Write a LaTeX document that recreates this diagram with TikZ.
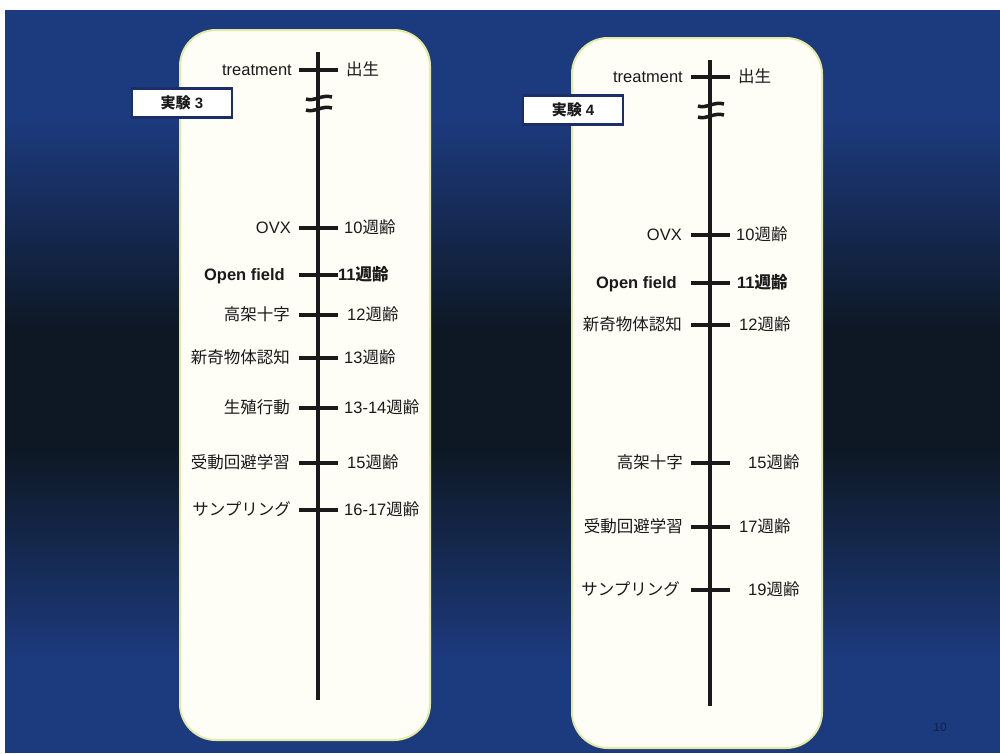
\documentclass[tikz,border=0pt]{standalone}
\usepackage{fontspec}
\setmainfont{Liberation Sans}
\newfontfamily\cjkfont{Noto Sans CJK JP}
\newcommand\jp[1]{{\cjkfont #1}}
\definecolor{bgblue}{HTML}{1C3A7E}
\definecolor{bgdark}{HTML}{0E1824}
\definecolor{panelfill}{HTML}{FEFEF7}
\definecolor{panelborder}{HTML}{E2EAA4}
\definecolor{navy}{HTML}{1A2E68}
\definecolor{ink}{HTML}{1A1A1A}
\tikzset{
  panel/.style={draw=panelborder, line width=2pt, fill=panelfill, rounded corners=36pt},
  axisline/.style={line width=4pt, draw=ink},
  tickline/.style={line width=4.5pt, draw=ink},
  breakline/.style={line width=3.5pt, draw=ink},
  lab/.style={font=\fontsize{16.5}{18}\selectfont, inner sep=0pt, text=ink, yshift=-3pt},
  ll/.style={lab, anchor=mid east},
  rl/.style={lab, anchor=mid west},
  expbox/.style={draw=navy, line width=2.5pt, fill=white, minimum width=100pt, minimum height=29pt, inner sep=0pt, font=\fontsize{15}{17}\selectfont\bfseries, text=ink},
}
\begin{document}
\begin{tikzpicture}[x=1pt,y=-1pt]
\useasboundingbox (0,0) rectangle (1000,753);
\fill[white] (0,0) rectangle (1000,753);
\fill[bgblue] (5,10) rectangle (1000,120);
\shade[top color=bgblue, bottom color=bgdark] (5,119) rectangle (1000,330);
\fill[bgdark] (5,329) rectangle (1000,450);
\shade[top color=bgdark, bottom color=bgblue] (5,449) rectangle (1000,660);
\fill[bgblue] (5,659) rectangle (1000,753);
% panels
\node[panel, minimum width=250pt, minimum height=710pt, inner sep=0pt] (p1) at (305,385) {};
\node[panel, minimum width=250pt, minimum height=710pt, inner sep=0pt] (p2) at (697,393) {};
% experiment labels
\node[expbox] (e3) at (182,103) {\jp{実験} 3};
\node[expbox] (e4) at (573,110) {\jp{実験} 4};
% ---------- timeline 1 ----------
\coordinate (a1top) at (318,52);
\coordinate (a1bot) at (318,700);
\draw[axisline] (a1top) -- (a1bot);
\foreach \n/\y in {t/70, o/228, f/275, k/315, s/358, h/408, j/463, m/510}{
  \coordinate (a1\n) at (318,\y);
  \draw[tickline] ([xshift=-19pt]a1\n) -- ([xshift=20pt]a1\n);
}
\coordinate (a1b1) at (318,97);
\coordinate (a1b2) at (318,108);
\draw[breakline] ([xshift=-12pt,yshift=-2pt]a1b1) .. controls ([xshift=-4pt,yshift=-5pt]a1b1) and ([xshift=4pt,yshift=3pt]a1b1) .. ([xshift=14pt,yshift=0pt]a1b1);
\draw[breakline] ([xshift=-12pt,yshift=-2pt]a1b2) .. controls ([xshift=-4pt,yshift=-5pt]a1b2) and ([xshift=4pt,yshift=3pt]a1b2) .. ([xshift=14pt,yshift=0pt]a1b2);
\node[ll] (l1t) at ([xshift=-26pt]a1t) {treatment};
\node[rl] (r1t) at ([xshift=28pt]a1t) {\jp{出生}};
\node[ll] (l1o) at ([xshift=-27pt]a1o) {OVX};
\node[rl] (r1o) at ([xshift=26pt]a1o) {10\jp{週齢}};
\node[ll,font=\fontsize{16.5}{18}\selectfont\bfseries] (l1f) at ([xshift=-33pt]a1f) {Open field};
\node[rl,font=\fontsize{16.5}{18}\selectfont\bfseries] (r1f) at ([xshift=20pt]a1f) {11\jp{週齢}};
\node[ll] (l1k) at ([xshift=-28pt]a1k) {\jp{高架十字}};
\node[rl] (r1k) at ([xshift=29pt]a1k) {12\jp{週齢}};
\node[ll] (l1s) at ([xshift=-28pt]a1s) {\jp{新奇物体認知}};
\node[rl] (r1s) at ([xshift=26pt]a1s) {13\jp{週齢}};
\node[ll] (l1h) at ([xshift=-28pt]a1h) {\jp{生殖行動}};
\node[rl] (r1h) at ([xshift=26pt]a1h) {13-14\jp{週齢}};
\node[ll] (l1j) at ([xshift=-28pt]a1j) {\jp{受動回避学習}};
\node[rl] (r1j) at ([xshift=29pt]a1j) {15\jp{週齢}};
\node[ll] (l1m) at ([xshift=-27pt]a1m) {\jp{サンプリング}};
\node[rl] (r1m) at ([xshift=26pt]a1m) {16-17\jp{週齢}};
% ---------- timeline 2 ----------
\coordinate (a2top) at (710,60);
\coordinate (a2bot) at (710,706);
\draw[axisline] (a2top) -- (a2bot);
\foreach \n/\y in {t/77, o/235, f/283, s/325, k/463, j/527, m/590}{
  \coordinate (a2\n) at (710,\y);
  \draw[tickline] ([xshift=-19pt]a2\n) -- ([xshift=20pt]a2\n);
}
\coordinate (a2b1) at (710,104);
\coordinate (a2b2) at (710,115);
\draw[breakline] ([xshift=-12pt,yshift=-2pt]a2b1) .. controls ([xshift=-4pt,yshift=-5pt]a2b1) and ([xshift=4pt,yshift=3pt]a2b1) .. ([xshift=14pt,yshift=0pt]a2b1);
\draw[breakline] ([xshift=-12pt,yshift=-2pt]a2b2) .. controls ([xshift=-4pt,yshift=-5pt]a2b2) and ([xshift=4pt,yshift=3pt]a2b2) .. ([xshift=14pt,yshift=0pt]a2b2);
\node[ll] (l2t) at ([xshift=-27pt]a2t) {treatment};
\node[rl] (r2t) at ([xshift=28pt]a2t) {\jp{出生}};
\node[ll] (l2o) at ([xshift=-28pt]a2o) {OVX};
\node[rl] (r2o) at ([xshift=26pt]a2o) {10\jp{週齢}};
\node[ll,font=\fontsize{16.5}{18}\selectfont\bfseries] (l2f) at ([xshift=-33pt]a2f) {Open field};
\node[rl,font=\fontsize{16.5}{18}\selectfont\bfseries] (r2f) at ([xshift=27pt]a2f) {11\jp{週齢}};
\node[ll] (l2s) at ([xshift=-28pt]a2s) {\jp{新奇物体認知}};
\node[rl] (r2s) at ([xshift=29pt]a2s) {12\jp{週齢}};
\node[ll] (l2k) at ([xshift=-27pt]a2k) {\jp{高架十字}};
\node[rl] (r2k) at ([xshift=38pt]a2k) {15\jp{週齢}};
\node[ll] (l2j) at ([xshift=-27pt]a2j) {\jp{受動回避学習}};
\node[rl] (r2j) at ([xshift=29pt]a2j) {17\jp{週齢}};
\node[ll] (l2m) at ([xshift=-30pt]a2m) {\jp{サンプリング}};
\node[rl] (r2m) at ([xshift=38pt]a2m) {19\jp{週齢}};
% page number
\node[font=\fontsize{12}{14}\selectfont, text=navy!70!black, inner sep=0pt] (pg) at (940,727) {10};
\end{tikzpicture}
\end{document}
